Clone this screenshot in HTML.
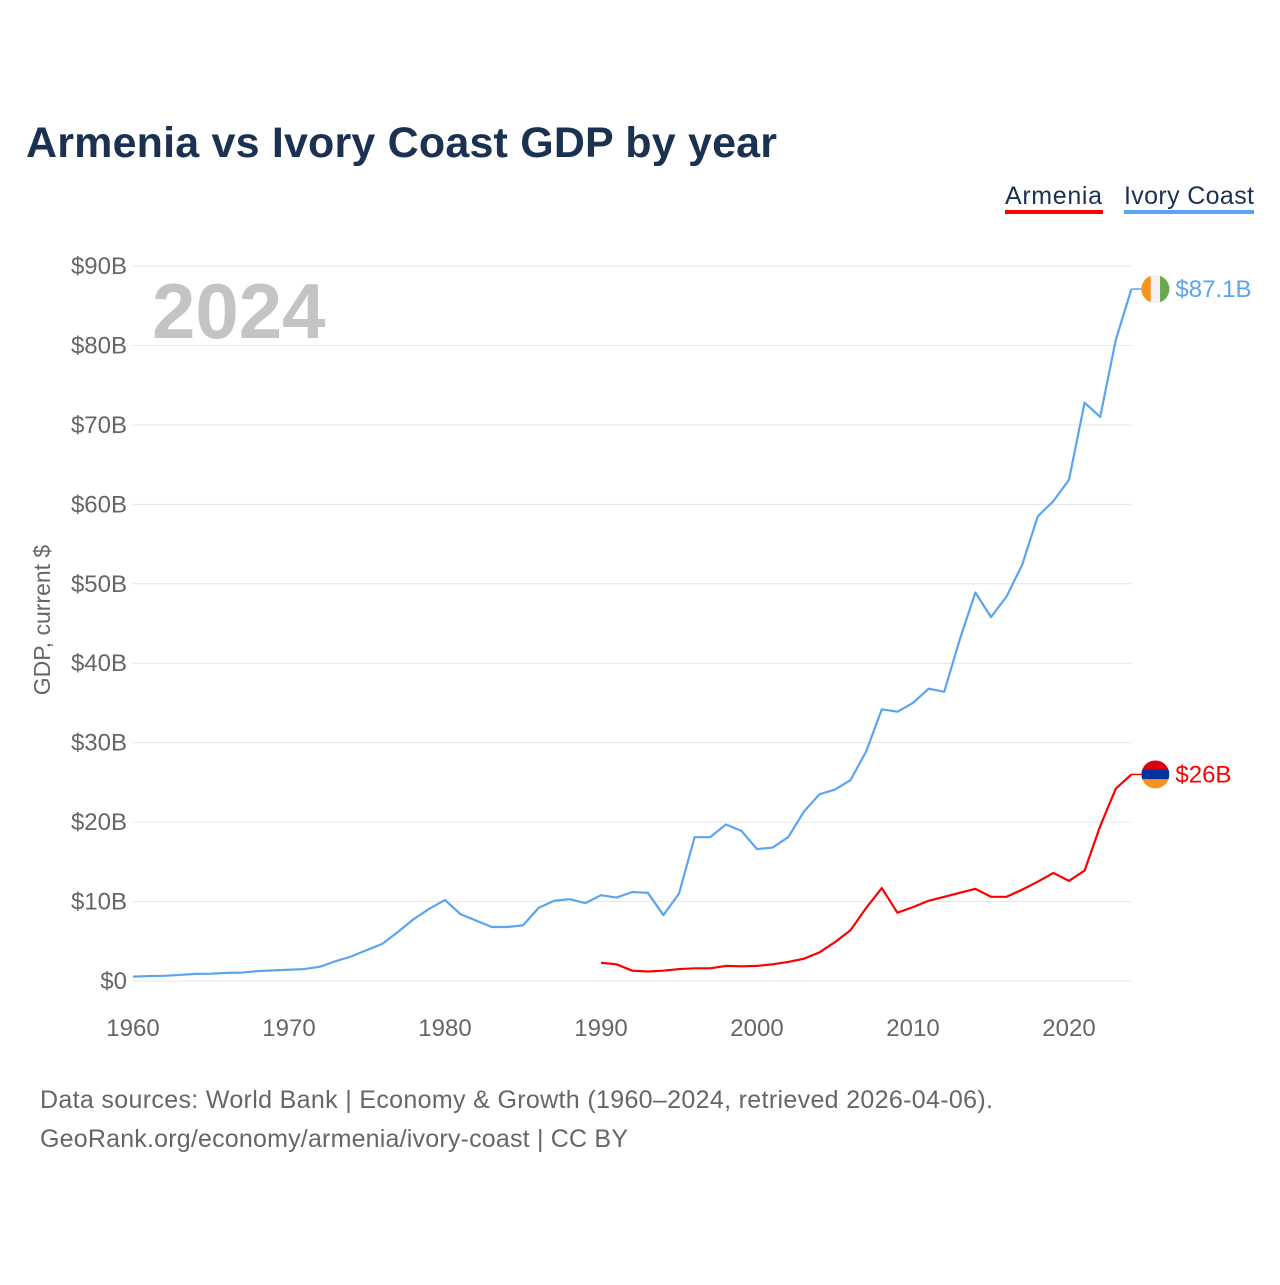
<!DOCTYPE html>
<html><head><meta charset="utf-8"><style>
body{margin:0;background:#fff;font-family:"Liberation Sans",sans-serif}
svg text{font-family:"Liberation Sans",sans-serif}
</style></head><body>
<svg width="1280" height="1280" viewBox="0 0 1280 1280">
<text x="26" y="157" font-size="43" font-weight="bold" fill="#1b3152" textLength="751">Armenia vs Ivory Coast GDP by year</text>
<g>
<text x="1005" y="204" font-size="25" fill="#1b3152" textLength="97">Armenia</text>
<rect x="1005" y="210" width="98" height="4" fill="#ff0000"/>
<text x="1124" y="204" font-size="25" fill="#1b3152" textLength="130">Ivory Coast</text>
<rect x="1124" y="210" width="130" height="4" fill="#5aa5ee"/>
</g>
<text x="152" y="338" font-size="78" font-weight="bold" fill="#c4c4c4">2024</text>
<text transform="translate(50,620) rotate(-90)" text-anchor="middle" font-size="23" fill="#666">GDP, current $</text>
<g id="grid"></g><g id="ylab"></g><g id="xlab"></g><g id="lines"></g>
<text x="40" y="1108" font-size="25" fill="#666" textLength="953">Data sources: World Bank | Economy &amp; Growth (1960–2024, retrieved 2026-04-06).</text>
<text x="40" y="1147" font-size="25" fill="#666" textLength="588">GeoRank.org/economy/armenia/ivory-coast | CC BY</text>
</svg>
<script>
const yTicks=[0,10,20,30,40,50,60,70,80,90];
const xTicks=[1960,1970,1980,1990,2000,2010,2020];
const civYears=[];for(let y=1960;y<=2024;y++)civYears.push(y);
const civValues=[0.55,0.62,0.65,0.76,0.9,0.92,1.02,1.06,1.25,1.34,1.42,1.5,1.8,2.5,3.1,3.9,4.7,6.2,7.8,9.1,10.2,8.4,7.6,6.8,6.8,7.0,9.2,10.1,10.3,9.8,10.8,10.5,11.2,11.1,8.3,11.0,18.1,18.1,19.7,18.9,16.6,16.8,18.1,21.3,23.5,24.1,25.3,28.9,34.2,33.9,35.0,36.8,36.4,43.0,48.9,45.8,48.4,52.4,58.5,60.4,63.1,72.8,71.0,80.7,87.1];
const armYears=[];for(let y=1990;y<=2024;y++)armYears.push(y);
const armValues=[2.3,2.1,1.3,1.2,1.3,1.5,1.6,1.6,1.9,1.85,1.9,2.1,2.4,2.8,3.6,4.9,6.4,9.2,11.7,8.6,9.3,10.1,10.6,11.1,11.6,10.6,10.6,11.5,12.5,13.6,12.6,13.9,19.5,24.2,26.0];
const NS='http://www.w3.org/2000/svg';
const X=y=>133+(y-1960)*(1069-133)/60;
const Y=v=>981-v*(981-266)/90;
function mk(t,a,p){const e=document.createElementNS(NS,t);for(const k in a)e.setAttribute(k,a[k]);document.getElementById(p).appendChild(e);return e;}
yTicks.forEach(v=>{
 const l=mk('line',{x1:133,x2:1131,y1:Y(v),y2:Y(v),stroke:'#e6e6e6','stroke-width':1},'grid');
 
 
 const t=mk('text',{x:127,y:Y(v)+8,'text-anchor':'end','font-size':24,fill:'#666'},'ylab');
 t.textContent='$'+v+(v?'B':'');
 
 
});
xTicks.forEach(y=>{
 const t=mk('text',{x:X(y),y:1036,'text-anchor':'middle','font-size':24,fill:'#666'},'xlab');
 t.textContent=y;
 
 
});
function line(xs,vs,c,name){
 const p=mk('path',{d:xs.map((y,i)=>(i?'L':'M')+X(y)+' '+Y(vs[i])).join(''),fill:'none',stroke:c,'stroke-width':2.2,'stroke-linejoin':'round'},'lines');
 
 
}
line(civYears,civValues,'#5aa5ee','line-ivory-coast');
line(armYears,armValues,'#ff0000','line-armenia');
function endLabel(v,c,txt,name,flag){
 const y=Y(v),x0=X(2024);
 mk('line',{x1:x0,x2:x0+10,y1:y,y2:y,stroke:c,'stroke-width':1.5},'lines');
 const cx=x0+24,r=14;
 const g=mk('g',{},'lines');
 
 
 const cp=document.createElementNS(NS,'clipPath');cp.setAttribute('id','cp'+name);
 const cc=document.createElementNS(NS,'circle');cc.setAttribute('cx',cx);cc.setAttribute('cy',y);cc.setAttribute('r',r);cp.appendChild(cc);g.appendChild(cp);
 flag.forEach((col,i)=>{const rr=document.createElementNS(NS,'rect');
  if(name==='ivory-coast'){rr.setAttribute('x',cx-r+i*2*r/3);rr.setAttribute('y',y-r);rr.setAttribute('width',2*r/3+0.5);rr.setAttribute('height',2*r);}
  else{rr.setAttribute('x',cx-r);rr.setAttribute('y',y-r+i*2*r/3);rr.setAttribute('width',2*r);rr.setAttribute('height',2*r/3+0.5);}
  rr.setAttribute('fill',col);rr.setAttribute('clip-path','url(#cp'+name+')');g.appendChild(rr);});
 const t=mk('text',{x:cx+r+6,y:y+8,'font-size':24,fill:c},'lines');
 t.textContent=txt;
 
 
}
endLabel(civValues[civValues.length-1],'#5aa5ee','$87.1B','ivory-coast',['#f7931e','#f2f2f2','#6aa84f']);
endLabel(armValues[armValues.length-1],'#ff0000','$26B','armenia',['#d90012','#0033a0','#f7931e']);
</script>
</body></html>
